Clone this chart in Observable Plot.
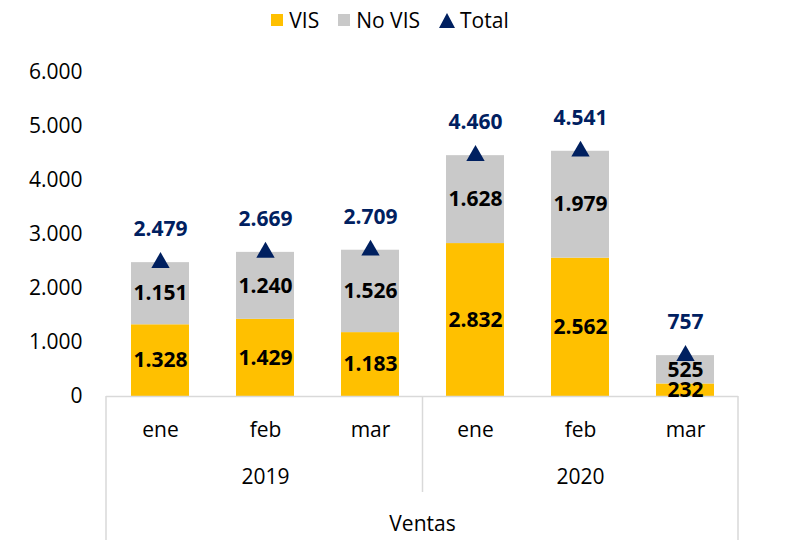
<!DOCTYPE html>
<html>
<head>
<meta charset="utf-8">
<script src="https://cdn.jsdelivr.net/npm/d3@7"></script>
<script src="https://cdn.jsdelivr.net/npm/@observablehq/plot@0.6"></script>
<style>
  html, body { margin: 0; padding: 0; background: #fff; }
  body { width: 800px; height: 551px; overflow: hidden; font-family: "Open Sans", sans-serif; }
  #legend { height: 40px; display: flex; justify-content: center; align-items: center; font-size: 21px; color: #000; transform: translateX(-10px); }
  #legend .item { display: flex; align-items: center; }
  #legend .sw { width: 12px; height: 12px; margin-right: 6px; }
  #legend .gap { width: 19px; }
</style>
</head>
<body>
<div id="legend"></div>
<div id="chart"></div>
<script>
const years = ["2019", "2019", "2019", "2020", "2020", "2020"];
const months = ["ene", "feb", "mar", "ene", "feb", "mar"];
const vis = [1328, 1429, 1183, 2832, 2562, 232];
const noVis = [1151, 1240, 1526, 1628, 1979, 525];
const totals = [2479, 2669, 2709, 4460, 4541, 757];
const seriesNames = ["VIS", "No VIS"];
const seriesColors = ["#FFC000", "#C9C9C9"];
const totalName = "Total";
const totalColor = "#002060";
const axisTitle = "Ventas";
const yTicks = [0, 1000, 2000, 3000, 4000, 5000, 6000];

const fmt = d3.formatLocale({decimal: ",", thousands: ".", grouping: [3], currency: ["", ""]}).format(",");

const keys = years.map((y, i) => y + "-" + months[i]);
const cats = keys.map((k, i) => ({key: k, year: years[i], month: months[i], total: totals[i]}));
const long = [];
keys.forEach((k, i) => {
  long.push({key: k, series: seriesNames[0], value: vis[i]});
  long.push({key: k, series: seriesNames[1], value: noVis[i]});
});
const yearList = Array.from(new Set(years));
const yearLabels = yearList.map(y => {
  const ks = keys.filter((k, i) => years[i] === y);
  return {year: y, key: ks[Math.floor(ks.length / 2)]};
});

// legend
const legend = document.getElementById("legend");
seriesNames.forEach((s, i) => {
  const it = document.createElement("div");
  it.className = "item";
  it.innerHTML = `<div class="sw" style="background:${seriesColors[i]}"></div><span>${s}</span>`;
  legend.appendChild(it);
  const g = document.createElement("div"); g.className = "gap"; legend.appendChild(g);
});
const tItem = document.createElement("div");
tItem.className = "item";
tItem.innerHTML = `<svg width="16" height="15" style="margin-right:5px"><polygon points="8,0 16,15 0,15" fill="${totalColor}"/></svg><span>${totalName}</span>`;
legend.appendChild(tItem);

const W = 800, H = 511;
const mL = 106, mR = 62, mT = 32, mB = 155;

const plot = Plot.plot({
  width: W, height: H,
  marginLeft: mL, marginRight: mR, marginTop: mT, marginBottom: mB,
  style: {fontFamily: "Open Sans, sans-serif", background: "#fff", overflow: "visible"},
  x: {domain: keys, paddingInner: 0.45, paddingOuter: 0.225, axis: null},
  y: {domain: [0, 6000], axis: null},
  color: {domain: seriesNames, range: seriesColors},
  marks: [
    Plot.axisY({ticks: yTicks, tickSize: 0, tickPadding: 24, tickFormat: fmt, fontSize: 21, fill: "#000"}),
    Plot.barY(long, {x: "key", y: "value", fill: "series", order: seriesNames}),
    Plot.ruleY([0], {stroke: "#d9d9d9", strokeWidth: 1.5}),
    Plot.text(long, Plot.stackY({x: "key", y: "value", z: "series", order: seriesNames,
      text: d => fmt(d.value), fontSize: 21, fontWeight: "bold", fill: "#000"})),
    Plot.dot(cats, {x: "key", y: "total", symbol: "triangle", r: 6.8, fill: totalColor, stroke: null}),
    Plot.text(cats, {x: "key", y: "total", text: d => fmt(d.total), dy: -33, fontSize: 21, fontWeight: "bold", fill: totalColor}),
    Plot.text(cats, {x: "key", text: "month", frameAnchor: "bottom", dy: 40, fontSize: 21, fill: "#000"}),
    Plot.text(yearLabels, {x: "key", text: "year", frameAnchor: "bottom", dy: 87, fontSize: 21, fill: "#000"}),
    Plot.text([axisTitle], {text: d => d, frameAnchor: "bottom", dy: 134, fontSize: 21, fill: "#000"})
  ]
});
document.getElementById("chart").appendChild(plot);

// category axis separators using the plot's x scale
const xs = plot.scale("x");
const base = H - mB;
const bounds = [];
bounds.push({x: mL, len: 144});
for (let i = 1; i < keys.length; i++) {
  if (years[i] !== years[i - 1]) {
    const xm = (xs.apply(keys[i - 1]) + xs.bandwidth + xs.apply(keys[i])) / 2;
    bounds.push({x: xm, len: 96});
  }
}
bounds.push({x: W - mR, len: 144});
const svg = d3.select(plot);
svg.append("g").selectAll("line").data(bounds).join("line")
  .attr("x1", d => d.x).attr("x2", d => d.x)
  .attr("y1", base).attr("y2", d => base + d.len)
  .attr("stroke", "#d9d9d9").attr("stroke-width", 1.5);
</script>
</body>
</html>
